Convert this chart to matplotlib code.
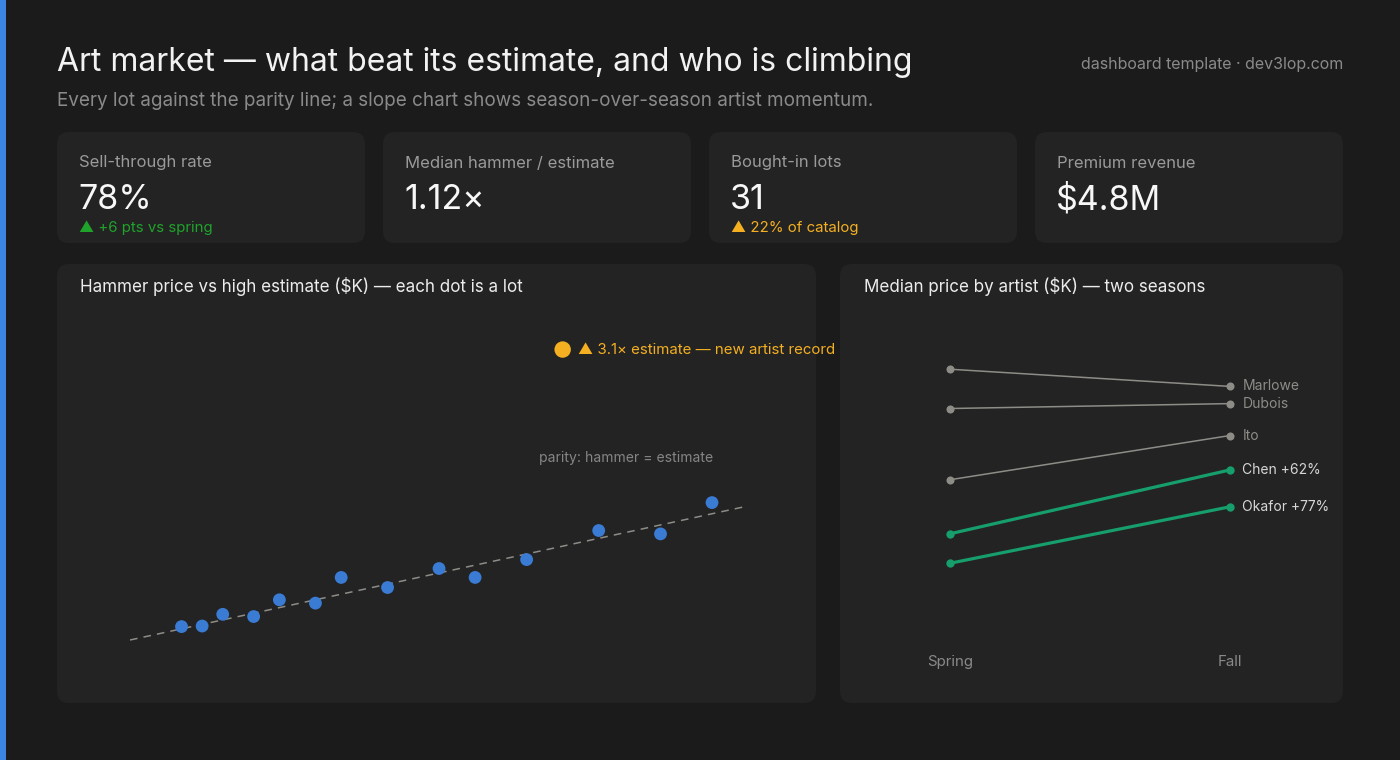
import matplotlib
matplotlib.use("Agg")
import matplotlib.pyplot as plt
from matplotlib.patches import FancyBboxPatch, Rectangle

plt.rcParams['font.family'] = ['Inter', 'DejaVu Sans']

# KPI cards
kpi_labels = ["Sell-through rate", "Median hammer / estimate", "Bought-in lots", "Premium revenue"]
kpi_values = ["78%", "1.12\u00d7", "31", "$4.8M"]
kpi_notes = ["\u25b2 +6 pts vs spring", "", "\u25b2 22% of catalog", ""]
kpi_note_colors = ["#1fa32b", None, "#f5b021", None]

# lots: high estimate vs hammer ($K)
estimate = [10, 14, 18, 24, 29, 36, 41, 50, 60, 67, 77, 91, 103, 113]
hammer = [12, 12.5, 23, 21, 36, 33, 56, 47, 64, 56, 72, 98, 95, 123]
record_est, record_hammer = 84, 260
parity_range = [0, 120]

# slope chart: median price by artist ($K)
artists = ["Marlowe", "Dubois", "Ito", "Chen", "Okafor"]
spring = [109, 93, 64, 42, 30]
fall = [102, 95, 82, 68, 53]
highlight = ["Chen", "Okafor"]
seasons = ["Spring", "Fall"]

BG = "#1b1b1b"
CARD = "#232323"
GREY = "#8d8c87"
BLUE = "#3a7bd4"
AMBER = "#f5b021"
GREEN = "#169e6c"

W, H = 1400, 760
fig = plt.figure(figsize=(W / 100, H / 100), dpi=100, facecolor=BG)

# full-figure layer in pixel coordinates for cards and text
bg = fig.add_axes([0, 0, 1, 1], zorder=0)
bg.set_xlim(0, W)
bg.set_ylim(H, 0)
bg.axis("off")


def card(x, y, w, h):
    bg.add_patch(FancyBboxPatch((x, y), w, h, boxstyle="round,pad=0,rounding_size=12",
                                fc=CARD, ec="none"))


bg.add_patch(Rectangle((0, 0), 6, H, fc="#3b86e0", ec="none"))

bg.text(57, 62, "Art market \u2014 what beat its estimate, and who is climbing",
        color="#f2f2f2", fontsize=23, va="center", ha="left")
bg.text(57, 101, "Every lot against the parity line; a slope chart shows season-over-season artist momentum.",
        color="#8a8a8a", fontsize=13.6, va="center", ha="left")
bg.text(1343, 65, "dashboard template \u00b7 dev3lop.com", color="#8a8a8a",
        fontsize=11.5, va="center", ha="right")

for i, (lab, val, note, nc) in enumerate(zip(kpi_labels, kpi_values, kpi_notes, kpi_note_colors)):
    x0 = 57 + i * 326
    card(x0, 132, 308, 111)
    bg.text(x0 + 22, 163, lab, color="#9a9a9a", fontsize=12, va="center")
    bg.text(x0 + 21, 200, val, color="#f7f7f7", fontsize=24.5, va="center")
    if note:
        bg.text(x0 + 22, 228, note, color=nc, fontsize=10.8, va="center")

card(57, 264, 759, 439)
card(840, 264, 503, 439)
bg.text(80, 287, "Hammer price vs high estimate ($K) \u2014 each dot is a lot",
        color="#ececec", fontsize=12.25, va="center")
bg.text(864, 287, "Median price by artist ($K) \u2014 two seasons",
        color="#ececec", fontsize=12.25, va="center")

# scatter
ax = fig.add_axes([100 / W, (H - 680) / H, 680 / W, 370 / H], zorder=1)
ax.patch.set_alpha(0)
ax.axis("off")
ax.set_xlim(-5.83, 126.2)
ax.set_ylim(-35.8, 295.4)
ax.plot(parity_range, parity_range, color=GREY, lw=1.1, dashes=(5, 4))
ax.scatter(estimate, hammer, s=85, color=BLUE, edgecolors="none", zorder=3)
ax.scatter([record_est], [record_hammer], s=140, color=AMBER, edgecolors="none", zorder=3)
ax.annotate(f"\u25b2 {record_hammer / record_est:.1f}\u00d7 estimate \u2014 new artist record",
            (record_est, record_hammer), xytext=(11, 0), textcoords="offset points",
            color=AMBER, fontsize=10.8, va="center", ha="left")
ax.text(96.3, 163, "parity: hammer = estimate", color="#858585", fontsize=10.1,
        ha="center", va="center")

# slope chart
ax2 = fig.add_axes([860 / W, (H - 645) / H, 480 / W, 335 / H], zorder=1)
ax2.patch.set_alpha(0)
ax2.set_xlim(-0.321, 1.393)
ax2.set_ylim(-3.26, 133.1)
for s in ax2.spines.values():
    s.set_visible(False)
ax2.set_yticks([])
ax2.set_xticks([0, 1])
ax2.set_xticklabels(seasons)
ax2.tick_params(axis="x", length=0, pad=7, labelcolor="#8a8a8a", labelsize=10.8)

for name, a, b in zip(artists, spring, fall):
    hi = name in highlight
    col = GREEN if hi else GREY
    ax2.plot([0, 1], [a, b], color=col, lw=2.3 if hi else 1.1, marker="o",
             ms=6 if hi else 5.8, mec="none", solid_capstyle="round")
    label = f"{name} +{round((b / a - 1) * 100)}%" if hi else name
    ax2.annotate(label, (1, b), xytext=(9, 0), textcoords="offset points",
                 color="#d6d6d6" if hi else GREY, fontsize=10, va="center", ha="left")

fig.savefig("out.png", dpi=100, facecolor=BG)
